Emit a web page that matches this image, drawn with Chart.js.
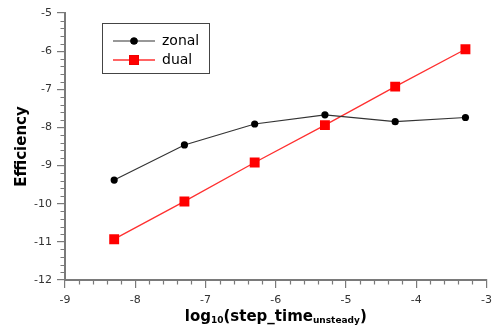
<!DOCTYPE html>
<html>
<head>
<meta charset="utf-8">
<script src="https://cdn.jsdelivr.net/npm/chart.js@4/dist/chart.umd.min.js"></script>
<style>
  html, body { margin: 0; padding: 0; background: #fff; }
  #wrap { width: 498px; height: 329px; }
</style>
</head>
<body>
<div id="wrap"><canvas id="effChart" width="498" height="329"></canvas></div>
<script>
// values
const stepLog = [-8.3, -7.3, -6.3, -5.3, -4.3, -3.3];
const zonal = [-9.38, -8.46, -7.91, -7.67, -7.85, -7.74];
const dual = [-10.93, -9.94, -8.92, -7.94, -6.93, -5.95];
const seriesNames = ['zonal', 'dual'];

const FONT = '"DejaVu Sans", Verdana, sans-serif';
const AXIS = '#7a7a7a';

// small minor ticks between the major ones (every 0.2)
const minorTicks = {
  id: 'minorTicks',
  afterDraw(chart) {
    const ctx = chart.ctx;
    const xs = chart.scales.x, ys = chart.scales.y;
    ctx.save();
    ctx.strokeStyle = AXIS;
    ctx.lineWidth = 1.2;
    ctx.beginPath();
    for (let i = 0; i <= 30; i++) {
      if (i % 5 === 0) continue;
      const v = xs.min + i * 0.2;
      const px = Math.round(xs.getPixelForValue(v)) + 0.5;
      ctx.moveTo(px, xs.top);
      ctx.lineTo(px, xs.top + 4.5);
    }
    for (let i = 0; i <= 35; i++) {
      if (i % 5 === 0) continue;
      const v = ys.min + i * 0.2;
      const py = Math.round(ys.getPixelForValue(v)) + 0.5;
      ctx.moveTo(ys.right, py);
      ctx.lineTo(ys.right - 4.5, py);
    }
    ctx.stroke();
    ctx.restore();
  }
};

// legend box inside the plot, plus x title with subscripts
const extras = {
  id: 'extras',
  afterDraw(chart) {
    const ctx = chart.ctx;
    ctx.save();
    // legend
    ctx.strokeStyle = '#444';
    ctx.lineWidth = 1;
    ctx.strokeRect(102.5, 23.5, 107, 50);
    const rows = [41, 60];
    chart.data.datasets.forEach((ds, i) => {
      const y = rows[i];
      ctx.strokeStyle = ds.borderColor;
      ctx.lineWidth = ds.borderWidth;
      ctx.beginPath();
      ctx.moveTo(113, y);
      ctx.lineTo(155, y);
      ctx.stroke();
      Chart.helpers.drawPoint(ctx, {
        pointStyle: ds.pointStyle, radius: ds.pointRadius, borderWidth: 0
      }, 134, y);
      ctx.fillStyle = ds.pointBackgroundColor;
      ctx.fill();
      ctx.fillStyle = '#000';
      ctx.font = '14px ' + FONT;
      ctx.textBaseline = 'middle';
      ctx.textAlign = 'left';
      ctx.fillText(ds.label, 162, y);
    });

    // x axis title: log10(step_time unsteady)
    const parts = [
      ['log', false], ['10', true], ['(step_time', false], ['unsteady', true], [')', false]
    ];
    const big = 'bold 15px ' + FONT, small = 'bold 9px ' + FONT;
    let total = 0;
    parts.forEach(p => { ctx.font = p[1] ? small : big; total += ctx.measureText(p[0]).width; });
    const area = chart.chartArea;
    let x = (area.left + area.right) / 2 - total / 2;
    const base = 321;
    ctx.fillStyle = '#000';
    ctx.textBaseline = 'alphabetic';
    ctx.textAlign = 'left';
    parts.forEach(p => {
      ctx.font = p[1] ? small : big;
      ctx.fillText(p[0], x, p[1] ? base + 2 : base);
      x += ctx.measureText(p[0]).width;
    });
    ctx.restore();
  }
};

const data = {
  datasets: [{
    label: seriesNames[0],
    data: stepLog.map((x, i) => ({ x: x, y: zonal[i] })),
    borderColor: '#333333',
    backgroundColor: '#000000',
    pointBackgroundColor: '#000000',
    pointBorderWidth: 0,
    borderWidth: 1.2,
    pointStyle: 'circle',
    pointRadius: 3.6
  }, {
    label: seriesNames[1],
    data: stepLog.map((x, i) => ({ x: x, y: dual[i] })),
    borderColor: '#ff3030',
    backgroundColor: '#ff0000',
    pointBackgroundColor: '#ff0000',
    pointBorderWidth: 0,
    borderWidth: 1.3,
    pointStyle: 'rect',
    pointRadius: 7
  }]
};

const config = {
  type: 'line',
  data: data,
  options: {
    responsive: false,
    animation: false,
    layout: { padding: { top: 13, right: 11, left: 0, bottom: 0 } },
    plugins: { legend: { display: false }, tooltip: { enabled: false } },
    scales: {
      x: {
        type: 'linear',
        min: -9, max: -3,
        afterFit: s => { s.height = 49; },
        border: { color: AXIS, width: 2 },
        grid: { drawOnChartArea: false, drawTicks: true, tickLength: 8, color: AXIS, lineWidth: 1.2 },
        ticks: { stepSize: 1, padding: 6, color: '#333', font: { family: FONT, size: 11 } }
      },
      y: {
        min: -12, max: -5,
        afterFit: s => { s.width = 65; },
        border: { color: AXIS, width: 2 },
        grid: { drawOnChartArea: false, drawTicks: true, tickLength: 8, color: AXIS, lineWidth: 1.2 },
        ticks: { stepSize: 1, padding: 5, color: '#333', font: { family: FONT, size: 11 } },
        title: {
          display: true,
          text: 'Efficiency',
          color: '#000',
          padding: { top: 13, bottom: 0 },
          font: { family: FONT, size: 15, weight: 'bold' }
        }
      }
    }
  },
  plugins: [minorTicks, extras]
};

window.onload = function() {
  var ctx = document.getElementById('effChart').getContext('2d');
  window.effChart = new Chart(ctx, config);
};
</script>
</body>
</html>
